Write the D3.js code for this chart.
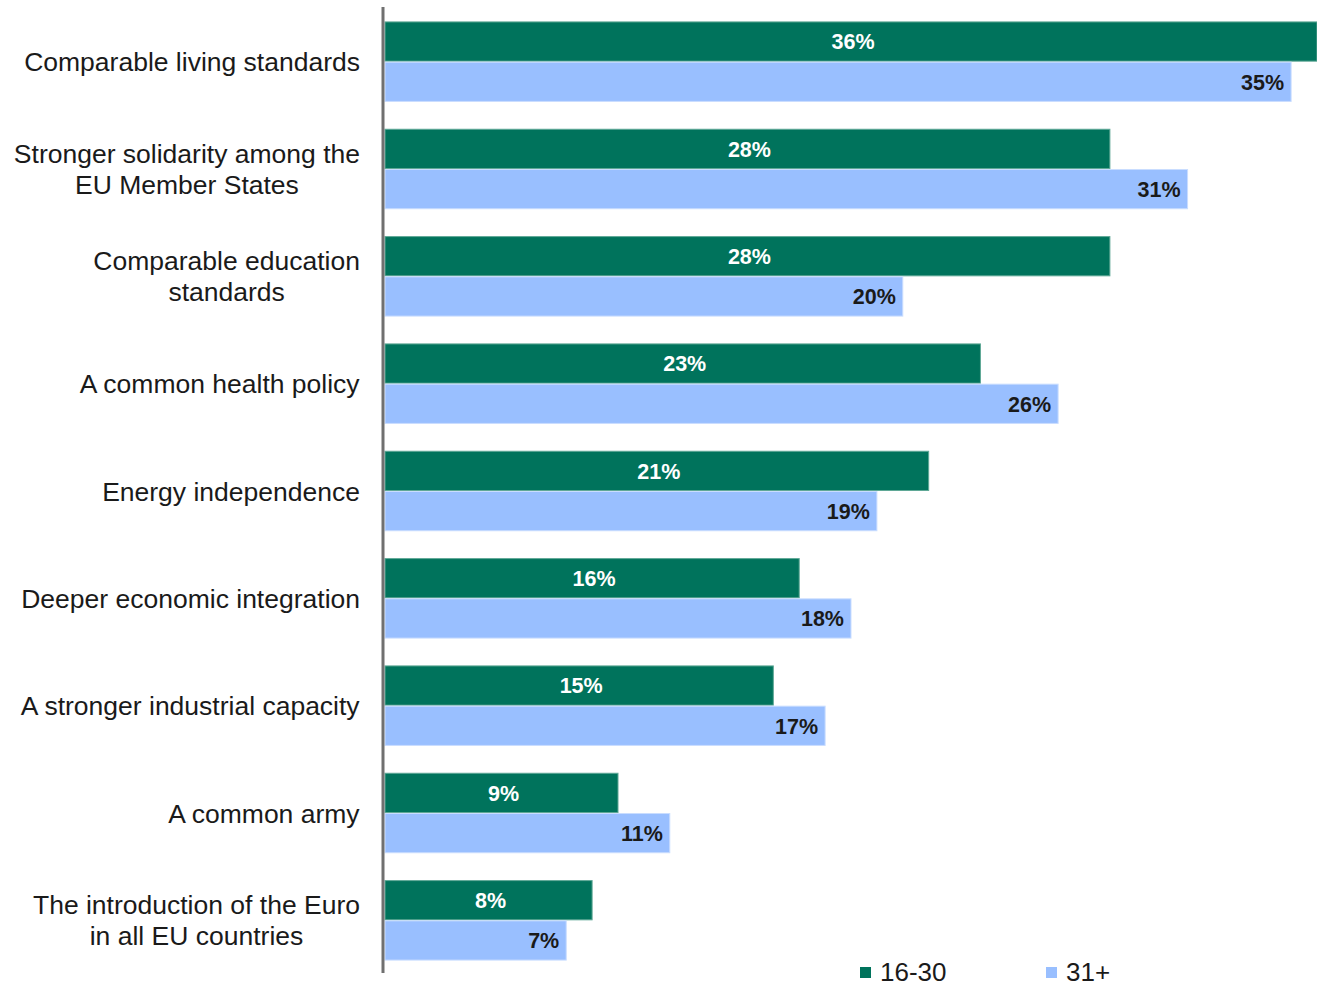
<!DOCTYPE html>
<html>
<head>
<meta charset="utf-8">
<script src="https://cdn.jsdelivr.net/npm/d3@7"></script>
<style>
  html, body { margin: 0; padding: 0; background: #fff; }
  svg { display: block; font-family: "Liberation Sans", Arial, sans-serif; }
</style>
</head>
<body>
<svg id="chart" width="1317" height="986"></svg>
<script>
// Priorities for the EU, by age group (share of respondents, %)
const categories = [
  ["Comparable living standards"],
  ["Stronger solidarity among the", "EU Member States"],
  ["Comparable education", "standards"],
  ["A common health policy"],
  ["Energy independence"],
  ["Deeper economic integration"],
  ["A stronger industrial capacity"],
  ["A common army"],
  ["The introduction of the Euro", "in all EU countries"]
];
const seriesNames = ["16-30", "31+"];
const young = [36, 28, 28, 23, 21, 16, 15, 9, 8];
const older = [35, 31, 20, 26, 19, 18, 17, 11, 7];

const colors = { "16-30": "#00735c", "31+": "#99bfff" };
const strokes = { "16-30": "#5fa896", "31+": "#c9ddff" };

const svg = d3.select("#chart");
const axisX = 383;
const x = d3.scaleLinear().domain([0, 36]).range([axisX + 2, 1317]);

const keys = categories.map((c, i) => i);
const y = d3.scaleBand().domain(keys).range([8, 974]).paddingInner(0.25).paddingOuter(0.125);
const ySub = d3.scaleBand().domain(seriesNames).range([0, y.bandwidth()]);

const rows = keys.map(i => ({ i, values: [
  { key: "16-30", value: young[i] },
  { key: "31+", value: older[i] }
]}));

const groups = svg.append("g").selectAll("g").data(rows).join("g")
  .attr("transform", d => `translate(0,${y(d.i)})`);

groups.selectAll("rect").data(d => d.values).join("rect")
  .attr("x", x(0))
  .attr("y", d => ySub(d.key) + 0.5)
  .attr("width", d => x(d.value) - x(0))
  .attr("height", ySub.bandwidth() - 1)
  .attr("fill", d => colors[d.key])
  .attr("stroke", d => strokes[d.key])
  .attr("stroke-width", 1);

groups.selectAll("text.val").data(d => d.values).join("text")
  .attr("class", "val")
  .attr("x", d => d.key === "16-30" ? (x(0) + x(d.value)) / 2 + 2 : x(d.value) - 7)
  .attr("y", d => ySub(d.key) + ySub.bandwidth() / 2)
  .attr("dy", "0.36em")
  .attr("text-anchor", d => d.key === "16-30" ? "middle" : "end")
  .attr("font-size", 21.5)
  .attr("font-weight", "bold")
  .attr("fill", d => d.key === "16-30" ? "#ffffff" : "#1a1a1a")
  .text(d => d.value + "%");

// Category labels: lines centred on each other, block right-aligned to the axis
const labelRight = 360;
const lineH = 31;
const labels = svg.append("g").selectAll("text.cat").data(rows).join("text")
  .attr("class", "cat")
  .attr("font-size", 26.5)
  .attr("fill", "#1a1a1a")
  .attr("text-anchor", "middle");

labels.each(function(d) {
  const t = d3.select(this);
  const lines = categories[d.i];
  const cy = y(d.i) + y.bandwidth() / 2;
  const top = cy - (lines.length - 1) * lineH / 2;
  lines.forEach((ln, k) => {
    t.append("tspan").attr("x", 0).attr("y", top + k * lineH).attr("dy", "0.36em").text(ln);
  });
  const w = this.getBBox().width;
  t.selectAll("tspan").attr("x", labelRight - w / 2);
});

// Vertical axis line
svg.append("line")
  .attr("x1", axisX).attr("x2", axisX)
  .attr("y1", 7).attr("y2", 973)
  .attr("stroke", "#707070").attr("stroke-width", 3);

// Legend
const legend = svg.append("g").selectAll("g").data(seriesNames).join("g")
  .attr("transform", (d, i) => `translate(${[860, 1046][i]},972)`);
legend.append("rect")
  .attr("x", 0).attr("y", -5).attr("width", 11).attr("height", 11)
  .attr("fill", d => colors[d]);
legend.append("text")
  .attr("x", 20).attr("y", 0).attr("dy", "0.36em")
  .attr("font-size", 26).attr("fill", "#1a1a1a")
  .text(d => d);
</script>
</body>
</html>
